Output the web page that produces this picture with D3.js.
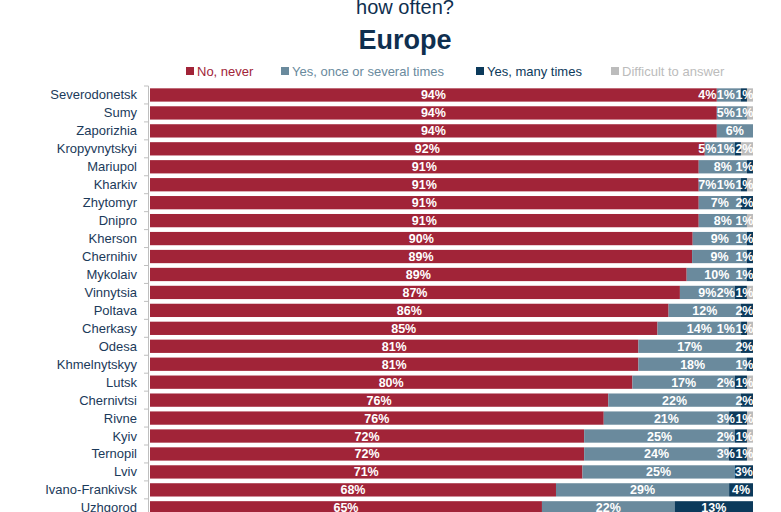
<!DOCTYPE html>
<html>
<head>
<meta charset="utf-8">
<script src="https://cdn.jsdelivr.net/npm/d3@7"></script>
<style>
  body { margin: 0; background: #fff; }
  svg { display: block; font-family: "Liberation Sans", Arial, sans-serif; }
</style>
</head>
<body>
<svg id="chart" width="781" height="512"></svg>
<script>
// cities, top to bottom
const cities = ["Severodonetsk", "Sumy", "Zaporizhia", "Kropyvnytskyi", "Mariupol", "Kharkiv",
  "Zhytomyr", "Dnipro", "Kherson", "Chernihiv", "Mykolaiv", "Vinnytsia", "Poltava", "Cherkasy",
  "Odesa", "Khmelnytskyy", "Lutsk", "Chernivtsi", "Rivne", "Kyiv", "Ternopil", "Lviv",
  "Ivano-Frankivsk", "Uzhgorod"];

const seriesNames = ["No, never", "Yes, once or several times", "Yes, many times", "Difficult to answer"];

const never     = [94, 94, 94, 92, 91, 91, 91, 91, 90, 89, 89, 87, 86, 85, 81, 81, 80, 76, 76, 72, 72, 71, 68, 65];
const onceSev   = [ 4,  5,  6,  5,  8,  7,  7,  8,  9,  9, 10,  9, 12, 14, 17, 18, 17, 22, 21, 25, 24, 25, 29, 22];
const manyTimes = [ 1,  0,  0,  1,  1,  1,  2,  0,  1,  1,  1,  2,  2,  1,  2,  1,  2,  2,  3,  2,  3,  3,  4, 13];
const difficult = [ 1,  1,  0,  2,  0,  1,  0,  1,  0,  0,  0,  1,  0,  1,  0,  0,  1,  0,  1,  1,  1,  0,  0,  0];

const colors = ["#a12438", "#6a8a9d", "#0c3a5b", "#bcbcbc"];

const svg = d3.select("#chart");
const left = 150, right = 753;

// titles (top one is cut off in the original too)
svg.append("text").attr("x", 405).attr("y", 14).attr("text-anchor", "middle")
  .attr("font-size", 20).attr("fill", "#0f2f4f").text("how often?");
svg.append("text").attr("x", 405).attr("y", 49).attr("text-anchor", "middle")
  .attr("font-size", 27).attr("font-weight", "bold").attr("fill", "#0f2f4f").text("Europe");

// legend
const legendX = [186, 281, 476, 611];
const legend = svg.append("g").selectAll("g").data(seriesNames).join("g")
  .attr("transform", (d, i) => `translate(${legendX[i]},71)`);
legend.append("rect").attr("x", 0).attr("y", -4).attr("width", 8).attr("height", 8)
  .attr("fill", (d, i) => colors[i]);
legend.append("text").attr("x", 11).attr("y", 4.5).attr("font-size", 13)
  .attr("fill", (d, i) => colors[i]).text(d => d);

// scales; rounded values don't always add to 100, so each row is normalised
const x = d3.scaleLinear().domain([0, 1]).range([left, right]);
const y = d3.scaleBand().domain(cities).range([86, 86 + 24 * 17.95]).paddingInner(0.26).paddingOuter(0.13);

const rows = cities.map((c, i) => ({ city: c, vals: [never[i], onceSev[i], manyTimes[i], difficult[i]] }));
const stack = d3.stack().keys([0, 1, 2, 3]).value((d, k) => d.vals[k]).offset(d3.stackOffsetExpand);
const layers = stack(rows);

// bars
svg.append("g").selectAll("g").data(layers).join("g")
  .attr("fill", d => colors[d.key])
  .selectAll("rect").data(d => d).join("rect")
  .attr("x", d => x(d[0]))
  .attr("y", d => y(d.data.city))
  .attr("width", d => x(d[1]) - x(d[0]))
  .attr("height", y.bandwidth());

// axis line and ticks between categories
const axis = svg.append("g");
axis.append("line").attr("x1", 148.5).attr("x2", 148.5)
  .attr("y1", y.range()[0]).attr("y2", y.range()[1]).attr("stroke", "#bfbfbf");
axis.selectAll("line.tick").data(d3.range(cities.length + 1)).join("line")
  .attr("class", "tick")
  .attr("x1", 144).attr("x2", 148.5)
  .attr("y1", i => y.range()[0] + i * y.step())
  .attr("y2", i => y.range()[0] + i * y.step())
  .attr("stroke", "#bfbfbf");

// category labels
svg.append("g").selectAll("text").data(cities).join("text")
  .attr("x", 137).attr("y", d => y(d) + y.bandwidth() / 2 + 4.5)
  .attr("text-anchor", "end").attr("font-size", 13).attr("fill", "#1b3a5a")
  .text(d => d);

// value labels, pushed left so they do not overlap or pass the bar end
const labelG = svg.append("g").attr("font-size", 12.5).attr("font-weight", "bold").attr("fill", "#fff");
rows.forEach((row, i) => {
  const cy = y(row.city) + y.bandwidth() / 2 + 4.5;
  const items = [];
  layers.forEach(layer => {
    const seg = layer[i];
    const v = row.vals[layer.key];
    if (v > 0) {
      const t = labelG.append("text").attr("y", cy).text(v + "%");
      items.push({ t, k: layer.key, c: x((seg[0] + seg[1]) / 2), w: t.node().getComputedTextLength() });
    }
  });
  let limit = right + 0.5;
  for (let j = items.length - 1; j >= 0; j--) {
    const it = items[j];
    let r = it.c + it.w / 2;
    if (it.k > 0) r = Math.min(r, limit);
    it.t.attr("x", r - it.w);
    limit = r - it.w - 0.5;
  }
});
</script>
</body>
</html>
